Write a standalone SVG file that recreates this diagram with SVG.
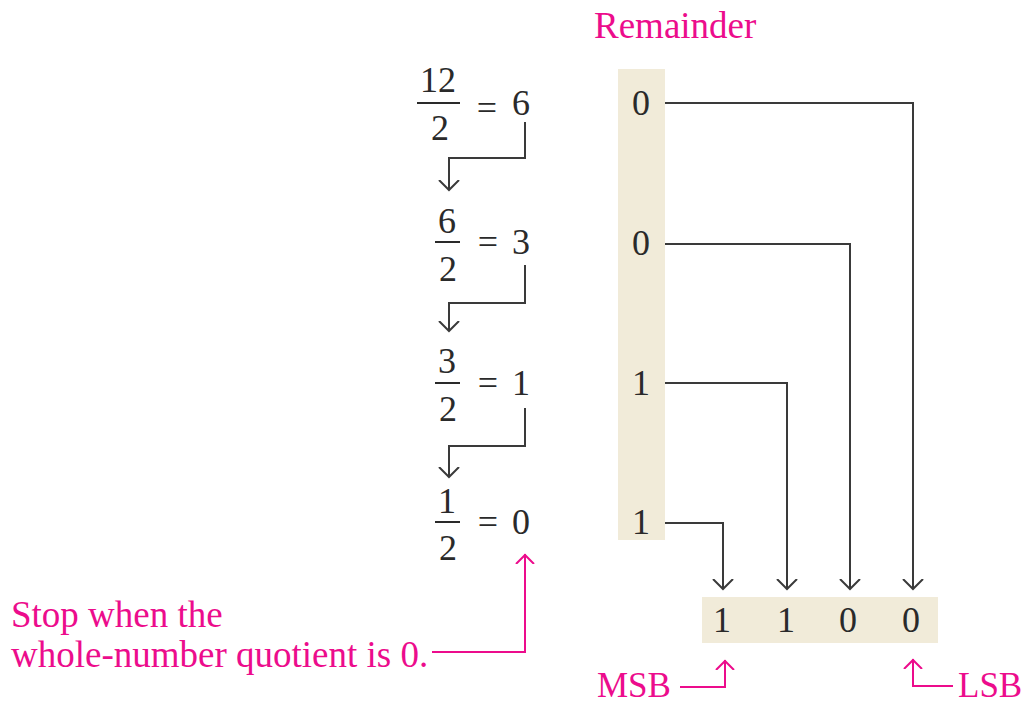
<svg xmlns="http://www.w3.org/2000/svg" width="1031" height="706" viewBox="0 0 1031 706">
<style>
.t{font-family:"Liberation Serif","Times New Roman",serif;font-size:36px;fill:#2a2a2a}
.m{text-anchor:middle}
.p{font-family:"Liberation Serif","Times New Roman",serif;font-size:37px;fill:#ec0c8c}
.s{font-size:35px}
.bar{stroke:#2a2a2a;stroke-width:2}
.c{fill:none;stroke:#3a3a3a;stroke-width:2}
.pc{fill:none;stroke:#ec0c8c;stroke-width:2}
.bg{fill:#f1ebd9}
</style>
<defs>
<marker id="ah" viewBox="0 0 12 22" refX="10" refY="11" markerWidth="12" markerHeight="22" markerUnits="userSpaceOnUse" orient="auto">
<path d="M0,1 L10,11 L0,21" fill="none" stroke="#3a3a3a" stroke-width="2"/>
</marker>
<marker id="ahp" viewBox="0 0 12 22" refX="10" refY="11" markerWidth="12" markerHeight="22" markerUnits="userSpaceOnUse" orient="auto">
<path d="M0,2 L9,11 L0,20" fill="none" stroke="#ec0c8c" stroke-width="2"/>
</marker>
</defs>
<text class="p" x="594" y="38">Remainder</text>
<g id="remainder-column">
<rect class="bg" x="618" y="69" width="47" height="471"/>
</g>
<g id="div1">
<text class="t m" x="438" y="92">12</text>
<line class="bar" x1="417" y1="103" x2="460" y2="103"/>
<text class="t m" x="440" y="140">2</text>
<text class="t m" x="487" y="120">=</text>
<text class="t m" x="521" y="115">6</text>
</g>
<g id="div2">
<text class="t m" x="447" y="233">6</text>
<line class="bar" x1="435" y1="242" x2="460" y2="242"/>
<text class="t m" x="448" y="281">2</text>
<text class="t m" x="488" y="254">=</text>
<text class="t m" x="521" y="254">3</text>
</g>
<g id="div3">
<text class="t m" x="447" y="373">3</text>
<line class="bar" x1="435" y1="383" x2="460" y2="383"/>
<text class="t m" x="448" y="421">2</text>
<text class="t m" x="488" y="395">=</text>
<text class="t m" x="521" y="395">1</text>
</g>
<g id="div4">
<text class="t m" x="447" y="513">1</text>
<line class="bar" x1="435" y1="522" x2="460" y2="522"/>
<text class="t m" x="448" y="560">2</text>
<text class="t m" x="488" y="534">=</text>
<text class="t m" x="521" y="534">0</text>
</g>
<g id="rem1"><text class="t m" x="641" y="115">0</text></g>
<g id="rem2"><text class="t m" x="641" y="255">0</text></g>
<g id="rem3"><text class="t m" x="641" y="395">1</text></g>
<g id="rem4"><text class="t m" x="641" y="534">1</text></g>
<g id="result">
<rect class="bg" x="702" y="597" width="236" height="46"/>
<text class="t m" x="722" y="632">1</text>
<text class="t m" x="786" y="632">1</text>
<text class="t m" x="848" y="632">0</text>
<text class="t m" x="911" y="632">0</text>
</g>
<g id="stop-note">
<text class="p" x="11" y="627">Stop when the</text>
<text class="p" x="11" y="667">whole-number quotient is 0.</text>
</g>
<g id="msb"><text class="p s" x="597" y="697">MSB</text></g>
<g id="lsb"><text class="p s" x="958" y="697">LSB</text></g>
<g id="connectors">
<path class="c" d="M525,122 V158 H449 V190" marker-end="url(#ah)"/>
<path class="c" d="M525,265 V303 H449 V331" marker-end="url(#ah)"/>
<path class="c" d="M525,408 V446 H449 V477" marker-end="url(#ah)"/>
<path class="c" d="M665,103 H913 V589" marker-end="url(#ah)"/>
<path class="c" d="M665,244 H850 V589" marker-end="url(#ah)"/>
<path class="c" d="M665,383 H787 V589" marker-end="url(#ah)"/>
<path class="c" d="M665,523 H723 V589" marker-end="url(#ah)"/>
<path class="pc" d="M432,652 H525 V554" marker-end="url(#ahp)"/>
<path class="pc" d="M680,687 H725 V660" marker-end="url(#ahp)"/>
<path class="pc" d="M953,686 H913 V659" marker-end="url(#ahp)"/>
</g>
</svg>
